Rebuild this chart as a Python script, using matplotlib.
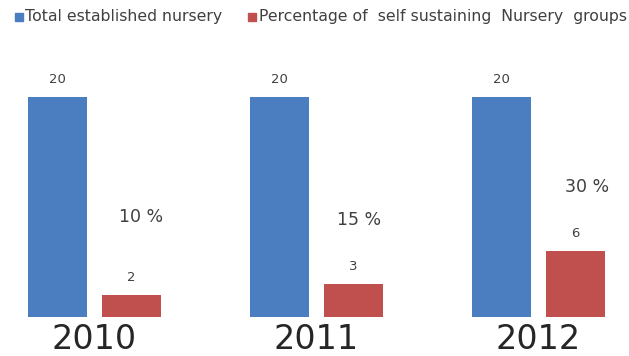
import matplotlib.pyplot as plt
import numpy as np
from matplotlib.patches import Rectangle

plt.rcParams["font.family"] = ["DejaVu Sans"]

years = ["2010", "2011", "2012"]
total_nursery = [20, 20, 20]
self_sustaining = [2, 3, 6]
percent_labels = ["10 %", "15 %", "30 %"]

BLUE = "#4a7ec0"
RED = "#c0504d"
TEXT = "#404040"

fig = plt.figure(figsize=(6.29, 3.56), dpi=100)
ax = fig.add_axes([0.0, 1 - 317 / 356, 1.0, 220 / 356])

x = np.arange(len(years))
width = 0.266
offset = 0.167

ax.bar(x - offset, total_nursery, width, color=BLUE)
ax.bar(x + offset, self_sustaining, width, color=RED)

for xi, v in zip(x, total_nursery):
    ax.text(xi - offset, v + 1.0, f"{v}", ha="center", va="bottom",
            fontsize=9.5, color=TEXT, clip_on=False)
for xi, v in zip(x, self_sustaining):
    ax.text(xi + offset, v + 1.0, f"{v}", ha="center", va="bottom",
            fontsize=9.5, color=TEXT)

# percentage notes float above the small bars
pct_dx = [0.043, 0.025, 0.05]
pct_y = [9.1, 8.8, 11.8]
for xi, label, dx, h in zip(x, percent_labels, pct_dx, pct_y):
    ax.text(xi + offset + dx, h, label, ha="center", va="center",
            fontsize=12.5, color=TEXT)

ax.set_xlim(-94.5 / 222, (629 - 94.5) / 222)
ax.set_ylim(0, 20)
ax.set_xticks(x)
ax.set_xticklabels(years, fontsize=24, color="#262626")
ax.tick_params(axis="x", length=0, pad=4)
ax.set_yticks([])
for s in ax.spines.values():
    s.set_visible(False)

# legend row across the top
fig.patches.append(Rectangle((15 / 629, 1 - 21 / 356), 8 / 629, 8 / 356,
                             transform=fig.transFigure, color=BLUE))
fig.text(25 / 629, 1 - 16 / 356, "Total established nursery", fontsize=11.3,
         color=TEXT, va="center", ha="left")
fig.patches.append(Rectangle((248 / 629, 1 - 21 / 356), 8 / 629, 8 / 356,
                             transform=fig.transFigure, color=RED))
fig.text(259 / 629, 1 - 16 / 356, "Percentage of  self sustaining  Nursery  groups",
         fontsize=11.3, color=TEXT, va="center", ha="left")

fig.savefig("out.png", dpi=100)
